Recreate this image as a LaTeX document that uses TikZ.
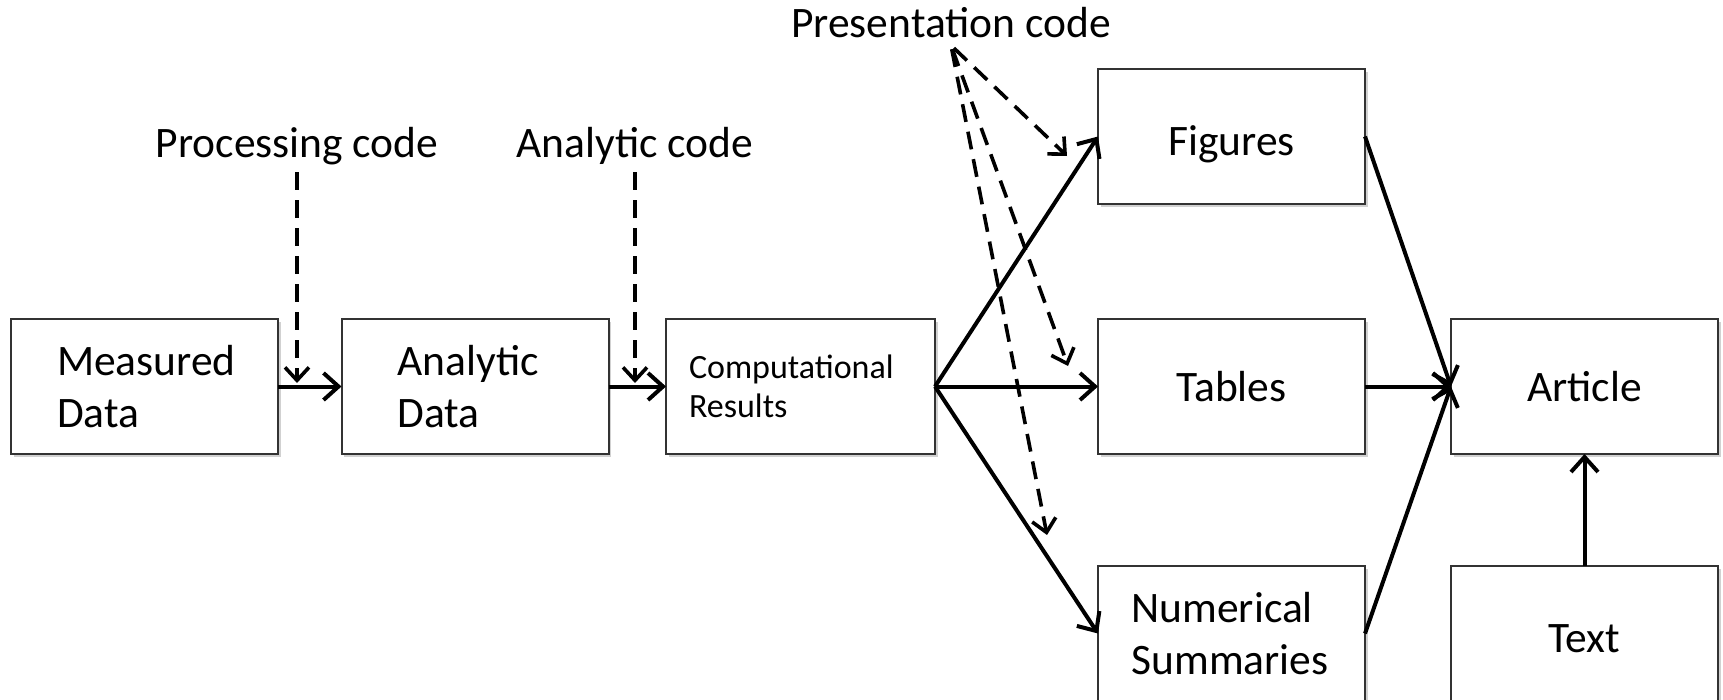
\documentclass[tikz,border=0pt]{standalone}
\usepackage{fontspec}
\setmainfont{Carlito}
\usetikzlibrary{arrows.meta,shadows}

\tikzset{
  box/.style={draw=black!80, line width=2pt, fill=white, rectangle,
    minimum width=267pt, minimum height=135pt, outer sep=0pt,
    font=\fontsize{43.5}{52.5}\selectfont,
    drop shadow={shadow xshift=2.5pt, shadow yshift=-2.5pt, opacity=0.18, fill=black}},
  boxcenter/.style={box, align=center},
  codelabel/.style={anchor=base, inner sep=8pt, outer sep=0pt,
    font=\fontsize{43.5}{52.5}\selectfont},
  flow/.style={line width=4pt, -{Straight Barb[length=15pt,width=27pt]}},
  codeflow/.style={line width=3.6pt, dash pattern=on 18pt off 10pt,
    -{Straight Barb[length=13pt,width=24pt]}}
}

\begin{document}
\begin{tikzpicture}[x=1pt,y=-1pt]
\useasboundingbox (0,0) rectangle (1723,699);

% processing pipeline boxes
\node[box, inner xsep=46pt, text width=175pt, align=left] (meas) at (144.5,386.5) {Measured\\Data};
\node[box, inner xsep=56pt, text width=155pt, align=left] (anal) at (475,386.5) {Analytic\\Data};
\node[box, minimum width=269pt, inner xsep=23pt, text width=223pt, align=left,
      font=\fontsize{34}{38.5}\selectfont, yshift=-3pt] (comp) at (800.5,383.5) {Computational\\Results};

% presentation products
\node[boxcenter, text height=46pt] (fig) at (1231.5,136.5) {Figures};
\node[boxcenter] (tab) at (1231.5,386.5) {Tables};
\node[box, inner xsep=33.5pt, text width=200pt, align=left] (num) at (1231.5,633.5) {Numerical\\Summaries};

% final article and its text
\node[boxcenter] (art) at (1584.5,386.5) {Article};
\node[boxcenter, text height=39pt] (txt) at (1584.5,633.5) {Text};

% code labels
\node[codelabel] (proc) at (297,157) {Processing code};
\node[codelabel] (ancode) at (635,157) {Analytic code};
\node[codelabel] (pres) at (951,37) {Presentation code};

% points where the code arrows land
\coordinate (procIn) at (297,383);
\coordinate (anIn) at (635,383);
\coordinate (figIn) at (1067,156);
\coordinate (tabIn) at (1068,366);
\coordinate (numIn) at (1047,535);

% main data flow
\draw[flow] (meas.east) -- (anal.west);
\draw[flow] (anal.east) -- (comp.west);
\draw[flow] (comp.east) -- (fig.west);
\draw[flow] (comp.east) -- (tab.west);
\draw[flow] (comp.east) -- (num.west);
\draw[flow] (fig.east) -- (art.west);
\draw[flow] (tab.east) -- (art.west);
\draw[flow] (num.east) -- (art.west);
\draw[flow] (txt.north) -- (art.south);

% code applied at each step
\draw[codeflow] (proc.south -| procIn) -- (procIn);
\draw[codeflow] (ancode.south -| anIn) -- (anIn);
\draw[codeflow, shorten <=4pt] (pres.south) -- (figIn);
\draw[codeflow, shorten <=4pt] (pres.south) -- (tabIn);
\draw[codeflow, shorten <=4pt] (pres.south) -- (numIn);
\end{tikzpicture}
\end{document}
